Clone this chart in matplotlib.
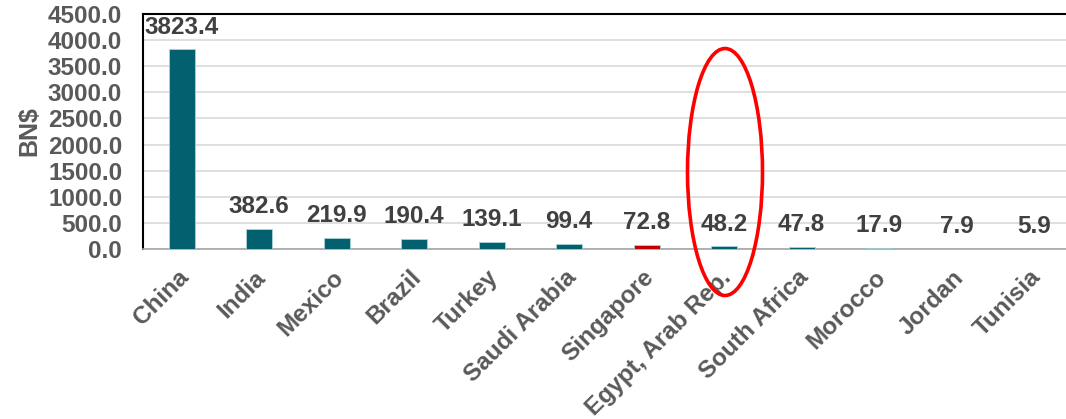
import matplotlib
matplotlib.use("Agg")
import matplotlib.pyplot as plt
from matplotlib.patches import Ellipse
from matplotlib.transforms import ScaledTranslation

countries = ["China", "India", "Mexico", "Brazil", "Turkey", "Saudi Arabia",
             "Singapore", "Egypt, Arab Rep.", "South Africa", "Morocco", "Jordan", "Tunisia"]
values = [3823.4, 382.6, 219.9, 190.4, 139.1, 99.4, 72.8, 48.2, 47.8, 17.9, 7.9, 5.9]
highlight = "Singapore"
yticks = [0, 500, 1000, 1500, 2000, 2500, 3000, 3500, 4000, 4500]

plt.rcParams['font.family'] = ['Liberation Sans', 'DejaVu Sans']
plt.rcParams['font.weight'] = 'bold'

W, H = 1066, 419
fig = plt.figure(figsize=(W / 100, H / 100), dpi=100)
ax = fig.add_axes([143 / W, 1 - 249 / H, (1073 - 143) / W, (249 - 14) / H])

teal = "#03616F"
red = "#C00000"
colors = [red if c == highlight else teal for c in countries]
x = list(range(len(countries)))
ax.bar(x, values, width=0.33, color=colors, edgecolor="#A9D3D8", linewidth=0.6, zorder=3)

ax.set_xlim(-0.5, len(countries) - 0.5)
ax.set_ylim(0, 4500)
ax.set_yticks(yticks)
ax.set_yticklabels([f"{v:.1f}" for v in yticks], fontsize=17.5, color="#595959", fontweight="bold")
ax.yaxis.grid(True, color="#D9D9D9", linewidth=1.2, zorder=0)
ax.set_axisbelow(True)
ax.tick_params(axis='both', length=0)
ax.tick_params(axis='y', pad=15)

ax.set_xticks(x)
ax.set_xticklabels(countries, rotation=45, ha='right', va='top', rotation_mode='anchor',
                   fontsize=17.5, color="#595959", fontweight="bold")
ax.tick_params(axis='x', pad=12)
shift = ScaledTranslation(-5 / 100, 0, fig.dpi_scale_trans)
for lab in ax.get_xticklabels():
    lab.set_transform(lab.get_transform() + shift)

ax.set_ylabel("BN$", fontsize=18, color="#595959", fontweight="bold", labelpad=5)

for side in ["left", "top"]:
    ax.spines[side].set_color("black")
    ax.spines[side].set_linewidth(1.5)
ax.spines["right"].set_visible(False)
ax.spines["bottom"].set_color("#A6A6A6")
ax.spines["bottom"].set_linewidth(1.2)

for xi, v in zip(x, values):
    ax.annotate(f"{v:.1f}", (xi, v), xytext=(0, 16), textcoords="offset points",
                ha="center", va="center", fontsize=17.5, color="#404040", fontweight="bold",
                zorder=5)

ell = Ellipse((725 / W, 1 - 172 / H), 75 / W, 247 / H, transform=fig.transFigure,
              fill=False, edgecolor="#FF0000", linewidth=2.6, zorder=10)
fig.patches.append(ell)

fig.savefig("out.png", dpi=100)
